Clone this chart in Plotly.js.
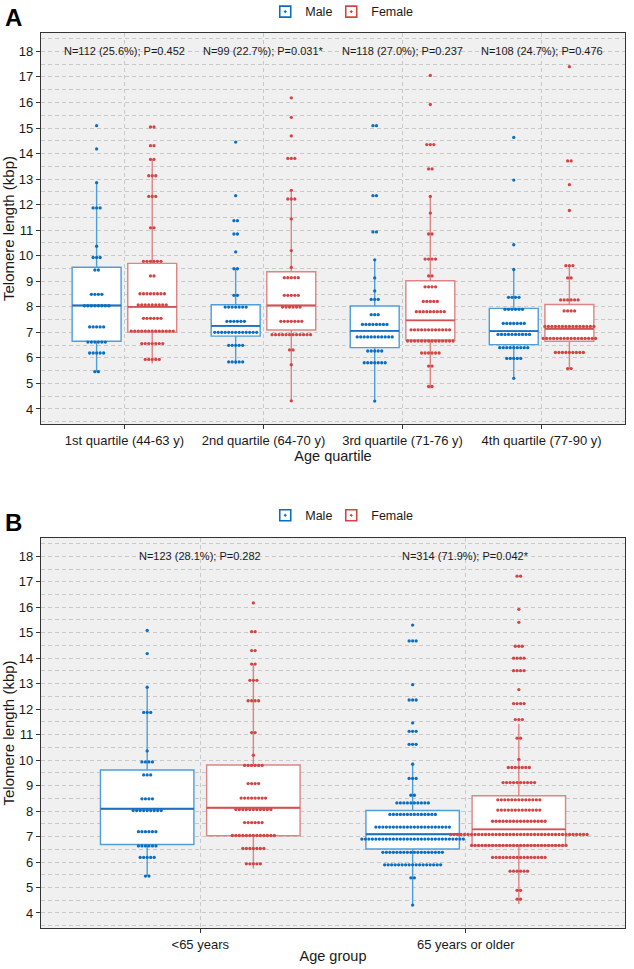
<!DOCTYPE html>
<html>
<head>
<meta charset="utf-8">
<script src="https://cdn.plot.ly/plotly-3.0.1.min.js"></script>
<style>html,body{margin:0;padding:0;background:#fff;}#chart{width:634px;height:969px;}</style>
</head>
<body>
<div id="chart"></div>
<script>
// ---------------- DATA ----------------
const quartileLabels = ["1st quartile (44-63 y)", "2nd quartile (64-70 y)", "3rd quartile (71-76 y)", "4th quartile (77-90 y)"];
const groupLabels = ["<65 years", "65 years or older"];
const quartileNotes = ["N=112 (25.6%); P=0.452", "N=99 (22.7%); P=0.031*", "N=118 (27.0%); P=0.237", "N=108 (24.7%); P=0.476"];
const groupNotes = ["N=123 (28.1%); P=0.282", "N=314 (71.9%); P=0.042*"];
const sexNames = ["Male", "Female"];

// Dot-plot bins (bin centre in kbp, number of subjects in bin)
const q1MaleY = [15.09, 14.18, 12.86, 11.87, 10.37, 9.93, 9.44, 8.49, 8.04, 7.21, 6.62, 6.19, 5.46];
const q1MaleN = [1, 1, 1, 3, 1, 3, 2, 4, 8, 5, 6, 5, 2];
const q1FemaleY = [15.04, 14.31, 13.77, 13.13, 12.32, 11.09, 9.78, 9.21, 8.51, 8.07, 7.55, 7.05, 6.56, 5.94];
const q1FemaleN = [2, 2, 2, 3, 3, 2, 6, 2, 8, 9, 6, 13, 7, 5];
const q2MaleY = [14.45, 12.35, 11.37, 10.85, 10.15, 9.49, 8.45, 7.99, 7.43, 7.00, 6.49, 5.84];
const q2MaleN = [1, 1, 2, 2, 1, 2, 2, 7, 6, 13, 5, 5];
const q2FemaleY = [16.18, 15.42, 14.69, 13.81, 12.56, 12.22, 11.44, 10.20, 9.54, 9.14, 8.45, 7.99, 7.43, 6.91, 6.31, 5.73, 4.32];
const q2FemaleN = [1, 1, 1, 3, 1, 3, 1, 1, 1, 5, 5, 6, 7, 12, 2, 1, 1];
const q3MaleY = [15.09, 12.35, 10.93, 9.84, 9.13, 8.62, 8.29, 7.69, 7.31, 6.82, 6.27, 5.81, 4.31];
const q3MaleN = [2, 2, 2, 1, 1, 1, 3, 3, 8, 11, 5, 7, 1];
const q3FemaleY = [17.06, 15.92, 14.35, 13.40, 12.32, 11.67, 10.85, 9.87, 9.21, 8.78, 8.21, 7.81, 7.10, 6.66, 6.19, 5.68, 4.88];
const q3FemaleN = [1, 1, 3, 2, 1, 1, 2, 4, 2, 4, 5, 9, 12, 14, 6, 2, 2];
const q4MaleY = [14.63, 12.96, 10.43, 9.46, 8.37, 7.90, 7.35, 6.92, 6.40, 5.98, 5.20];
const q4MaleN = [1, 1, 1, 1, 4, 6, 7, 10, 9, 5, 1];
const q4FemaleY = [17.40, 13.71, 12.78, 11.77, 9.61, 9.13, 8.27, 7.84, 7.23, 6.76, 6.21, 5.58];
const q4FemaleN = [1, 2, 1, 1, 3, 2, 6, 4, 15, 16, 9, 2];

const youngMaleY = [15.09, 14.18, 12.86, 11.87, 10.36, 9.93, 9.42, 8.48, 8.02, 7.19, 6.63, 6.18, 5.45];
const youngMaleN = [1, 1, 1, 3, 1, 4, 3, 4, 9, 6, 6, 5, 2];
const youngFemaleY = [16.17, 15.04, 14.30, 13.77, 13.13, 12.33, 11.08, 10.19, 9.79, 9.08, 8.51, 8.06, 7.55, 7.04, 6.53, 5.93];
const youngFemaleN = [1, 2, 2, 2, 3, 4, 2, 1, 6, 4, 8, 11, 6, 13, 7, 5];
const olderMaleY = [15.30, 14.68, 12.96, 12.36, 11.46, 11.13, 10.62, 9.84, 9.28, 8.62, 8.32, 7.87, 7.37, 6.90, 6.38, 5.89, 5.38, 4.31];
const olderMaleN = [1, 3, 1, 3, 1, 3, 3, 1, 3, 2, 10, 14, 22, 30, 18, 17, 2, 1];
const olderFemaleY = [17.22, 15.92, 15.41, 14.47, 14.00, 13.51, 12.77, 12.22, 11.59, 10.86, 10.03, 9.71, 9.12, 8.44, 8.04, 7.60, 7.08, 6.65, 6.18, 5.64, 4.89, 4.54];
const olderFemaleN = [2, 1, 1, 3, 4, 4, 1, 4, 3, 2, 1, 7, 10, 13, 13, 16, 40, 28, 16, 6, 2, 2];

// Box statistics (kbp)
const quartMaleQ1 = [6.65, 6.85, 6.40, 6.52];
const quartMaleMed = [8.05, 7.25, 7.06, 7.05];
const quartMaleQ3 = [9.55, 8.08, 8.03, 7.94];
const quartMaleLo = [5.46, 5.75, 4.31, 5.20];
const quartMaleHi = [12.86, 9.52, 9.84, 9.46];
const quartFemaleQ1 = [7.01, 7.09, 6.70, 6.65];
const quartFemaleMed = [8.00, 8.05, 7.47, 7.14];
const quartFemaleQ3 = [9.70, 9.37, 9.02, 8.09];
const quartFemaleLo = [5.78, 4.32, 4.80, 5.54];
const quartFemaleHi = [13.77, 12.56, 12.32, 9.62];

const groupMaleQ1 = [6.69, 6.51];
const groupMaleMed = [8.09, 7.09];
const groupMaleQ3 = [9.61, 8.02];
const groupMaleLo = [5.45, 4.31];
const groupMaleHi = [12.86, 9.87];
const groupFemaleQ1 = [7.03, 6.65];
const groupFemaleMed = [8.13, 7.28];
const groupFemaleQ3 = [9.81, 8.60];
const groupFemaleLo = [5.75, 4.35];
const groupFemaleHi = [13.77, 11.43];

// ---------------- STYLE / LAYOUT CONSTANTS ----------------
const FONT = "Liberation Sans, Arial, sans-serif";
const maleDot = "#0a6fc2", femaleDot = "#d24545";
const maleBox = "#4d9edb", femaleBox = "#dd8585";
const maleMed = "#1f6fbf", femaleMed = "#cf5353";
const W = 634, H = 969;
const M = {l: 41, r: 9, t: 33, b: 41, autoexpand: false};
const plotW = W - M.l - M.r;
const dodge = 0.2, boxW = 0.352, dotPx = 3.5;
const rangeA = [0.4, 4.6], rangeB = [0.4, 2.6];
const yRange = [3.41, 18.72];

function dots(ys, ns, center, step) {
  const x = [], y = [];
  ys.forEach((v, i) => {
    const n = ns[i];
    for (let k = 0; k < n; k++) { x.push(center + (k - (n - 1) / 2) * step); y.push(v); }
  });
  return {x, y};
}

const traces = [];
function addPanel(xa, ya, legendIds, nCat, maleStats, femaleStats, maleDots, femaleDots, range) {
  const step = dotPx / (plotW / (range[1] - range[0]));
  const pos = Array.from({length: nCat}, (_, i) => i + 1);
  const sets = [
    {name: sexNames[0], st: maleStats, off: -dodge, box: maleBox, med: maleMed, dot: maleDot, d: maleDots, leg: legendIds[0]},
    {name: sexNames[1], st: femaleStats, off: dodge, box: femaleBox, med: femaleMed, dot: femaleDot, d: femaleDots, leg: legendIds[1]}
  ];
  sets.forEach(s => {
    const xs = pos.map(p => p + s.off);
    traces.push({
      type: "box", name: s.name, showlegend: false, xaxis: xa, yaxis: ya,
      x: xs, q1: s.st[0], median: s.st[1], q3: s.st[2], lowerfence: s.st[3], upperfence: s.st[4],
      width: boxW, whiskerwidth: 0, boxpoints: false, fillcolor: "#ffffff",
      line: {color: s.box, width: 1.4}, hoverinfo: "skip"
    });
  });
  sets.forEach(s => {
    const mx = [], my = [];
    pos.forEach((p, i) => {
      const c = p + s.off;
      mx.push(c - boxW / 2, c + boxW / 2, null);
      my.push(s.st[1][i], s.st[1][i], null);
    });
    traces.push({type: "scatter", mode: "lines", x: mx, y: my, xaxis: xa, yaxis: ya,
      line: {color: s.med, width: 1.8}, showlegend: false, hoverinfo: "skip"});
  });
  sets.forEach(s => {
    const ax = [], ay = [];
    s.d.forEach((g, i) => {
      const r = dots(g[0], g[1], pos[i] + s.off, step);
      ax.push(...r.x); ay.push(...r.y);
    });
    traces.push({type: "scatter", mode: "markers", x: ax, y: ay, xaxis: xa, yaxis: ya,
      marker: {color: s.dot, size: 3.3, line: {width: 0}}, showlegend: false, hoverinfo: "skip"});
  });
  // legend keys (box-with-dot symbol, no data marks)
  sets.forEach(s => {
    traces.push({type: "scatter", mode: "markers", name: s.name, legend: s.leg, x: [null], y: [null], xaxis: xa, yaxis: ya,
      marker: {symbol: "square-open-dot", size: 11, color: s.dot, line: {width: 1.6, color: s.box}}, hoverinfo: "skip"});
  });
}

addPanel("x", "y", ["legend", "legend3"], 4,
  [quartMaleQ1, quartMaleMed, quartMaleQ3, quartMaleLo, quartMaleHi],
  [quartFemaleQ1, quartFemaleMed, quartFemaleQ3, quartFemaleLo, quartFemaleHi],
  [[q1MaleY, q1MaleN], [q2MaleY, q2MaleN], [q3MaleY, q3MaleN], [q4MaleY, q4MaleN]],
  [[q1FemaleY, q1FemaleN], [q2FemaleY, q2FemaleN], [q3FemaleY, q3FemaleN], [q4FemaleY, q4FemaleN]],
  rangeA);
addPanel("x2", "y2", ["legend2", "legend4"], 2,
  [groupMaleQ1, groupMaleMed, groupMaleQ3, groupMaleLo, groupMaleHi],
  [groupFemaleQ1, groupFemaleMed, groupFemaleQ3, groupFemaleLo, groupFemaleHi],
  [[youngMaleY, youngMaleN], [olderMaleY, olderMaleN]],
  [[youngFemaleY, youngFemaleN], [olderFemaleY, olderFemaleN]],
  rangeB);

const gridC = "#c9c9c9", gridDash = "4px,3px";
function yAxis(domain, anchor) {
  return {domain, anchor, range: yRange, tick0: 0, dtick: 1, showgrid: true, gridcolor: gridC, griddash: gridDash, gridwidth: 1,
    minor: {dtick: 0.5, showgrid: true, gridcolor: gridC, griddash: gridDash, gridwidth: 1},
    zeroline: false, showline: true, mirror: true, linecolor: "#333", linewidth: 1.2,
    ticks: "outside", ticklen: 4, tickcolor: "#333", tickwidth: 1,
    tickfont: {family: FONT, size: 13, color: "#1a1a1a"},
    title: {text: "Telomere length (kbp)", font: {family: FONT, size: 15, color: "#1a1a1a"}, standoff: 0}};
}
function xAxis(anchor, range, vals, labels, title) {
  return {anchor, range, tickvals: vals, ticktext: labels, showgrid: true, gridcolor: gridC, griddash: gridDash, gridwidth: 1,
    zeroline: false, showline: true, mirror: true, linecolor: "#333", linewidth: 1.2,
    ticks: "outside", ticklen: 4, tickcolor: "#333", tickwidth: 1,
    tickfont: {family: FONT, size: 13, color: "#1a1a1a"},
    title: {text: title, font: {family: FONT, size: 14.5, color: "#1a1a1a"}, standoff: 0}};
}

const ann = [];
quartileNotes.forEach((t, i) => ann.push({text: t, x: i + 1, y: 18, xref: "x", yref: "y", showarrow: false,
  font: {family: FONT, size: 11, color: "#1a1a1a"}}));
groupNotes.forEach((t, i) => ann.push({text: t, x: i + 1, y: 18, xref: "x2", yref: "y2", showarrow: false,
  font: {family: FONT, size: 11, color: "#1a1a1a"}}));
ann.push({text: "<b>A</b>", x: -0.047, y: 1.0168, xref: "paper", yref: "paper", showarrow: false, xanchor: "center", yanchor: "middle",
  font: {family: FONT, size: 24, color: "#000"}});
ann.push({text: "<b>B</b>", x: -0.047, y: 0.4536, xref: "paper", yref: "paper", showarrow: false, xanchor: "center", yanchor: "middle",
  font: {family: FONT, size: 24, color: "#000"}});

const legendBase = {orientation: "h", xanchor: "left", yanchor: "middle", bgcolor: "rgba(0,0,0,0)",
  font: {family: FONT, size: 12.5, color: "#1a1a1a"}, itemwidth: 30};
const legMaleX = 0.384, legFemaleX = 0.497;

const layout = {
  width: W, height: H, margin: M, paper_bgcolor: "#ffffff", plot_bgcolor: "#f0f0f0",
  showlegend: true,
  legend: Object.assign({}, legendBase, {x: legMaleX, y: 1.0235}),
  legend3: Object.assign({}, legendBase, {x: legFemaleX, y: 1.0235}),
  legend2: Object.assign({}, legendBase, {x: legMaleX, y: 0.4607}),
  legend4: Object.assign({}, legendBase, {x: legFemaleX, y: 0.4607}),
  xaxis: xAxis("y", rangeA, [1, 2, 3, 4], quartileLabels, "Age quartile"),
  yaxis: yAxis([0.5631, 1], "x"),
  xaxis2: xAxis("y2", rangeB, [1, 2], groupLabels, "Age group"),
  yaxis2: yAxis([0, 0.4358], "x2"),
  annotations: ann
};

Plotly.newPlot("chart", traces, layout, {staticPlot: true, displayModeBar: false});
</script>
</body>
</html>
